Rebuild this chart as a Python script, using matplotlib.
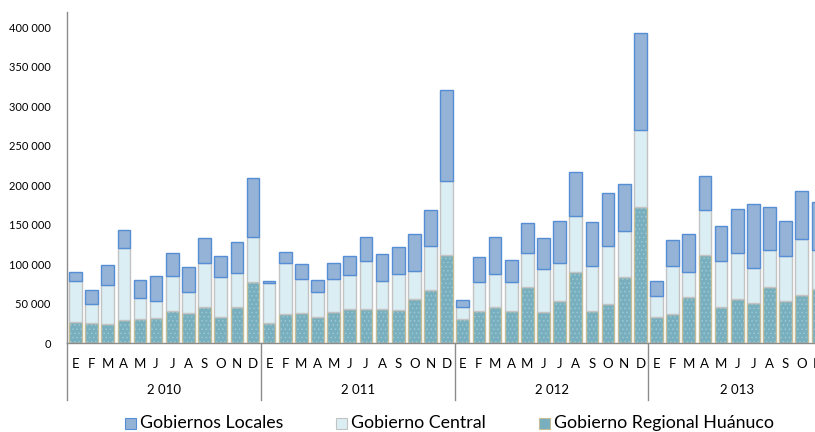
import matplotlib
matplotlib.use("Agg")
import matplotlib.pyplot as plt
import matplotlib.patches as mpatches
import matplotlib.transforms as mtransforms
import numpy as np

plt.rcParams['font.family'] = ['Lato', 'DejaVu Sans']
plt.rcParams['hatch.linewidth'] = 0.6

years = ["2 010", "2 011", "2 012", "2 013"]
months = ["E", "F", "M", "A", "M", "J", "J", "A", "S", "O", "N", "D"]
months_2013 = months[:11]

# values in soles (stack: regional bottom, central middle, locales top)
regional = [26700, 25400, 24100, 29600, 30900, 31800, 40700, 38100, 46200, 33000, 45700, 77900,
            25000, 36800, 38100, 33500, 39800, 43200, 43600, 43200, 42400, 55900, 67800, 111400,
            30100, 40700, 45300, 41100, 70700, 39800, 53400, 89400, 40200, 49100, 84300, 172000,
            33500, 37300, 58000, 111400, 45700, 55500, 51200, 70700, 53800, 61000, 69000]
central = [52500, 24600, 48800, 90300, 26700, 22000, 44000, 27100, 54600, 50900, 42800, 56400,
           51200, 64000, 42800, 31300, 41500, 42800, 60600, 35600, 45700, 36000, 55000, 94000,
           15600, 36800, 42000, 36400, 43200, 53400, 48300, 72000, 57600, 74200, 57600, 98200,
           25800, 59700, 32200, 56700, 58100, 58000, 43300, 47000, 56700, 70700, 48300]
locales = [10600, 17300, 26200, 23700, 22900, 31300, 29700, 30900, 31800, 26600, 39400, 74500,
           2600, 14800, 19500, 15700, 20400, 24100, 30500, 33400, 33500, 46200, 46200, 114800,
           8500, 31800, 46500, 27500, 38600, 39800, 52500, 55000, 55100, 67300, 59700, 123300,
           19500, 33500, 48300, 43200, 44900, 56300, 81300, 54300, 43700, 61000, 61000]

labels = ["Gobiernos Locales", "Gobierno Central", "Gobierno Regional Huánuco"]
c_loc, c_loc_edge = "#95B3D7", "#558ED5"
c_cen, c_cen_edge = "#DBEEF4", "#C3C3C3"
c_reg, c_reg_edge = "#78AFBE", "#C4BD97"

W, H = 815, 432
fig = plt.figure(figsize=(W / 100, H / 100), dpi=100)
left, right, top, bottom = 67.3, 826.0, 11.7, 343.0
ax = fig.add_axes([left / W, (H - bottom) / H, (right - left) / W, (bottom - top) / H])

n = len(regional)
x = np.arange(n)
reg = np.array(regional)
cen = np.array(central)
loc = np.array(locales)
bw = 0.78

ax.bar(x, reg, width=bw, color=c_reg, edgecolor="#9CC6D1", hatch="....", linewidth=0, zorder=2)
ax.bar(x, reg, width=bw, facecolor="none", edgecolor=c_reg_edge, linewidth=1.0, zorder=3)
ax.bar(x, cen, width=bw, bottom=reg, color=c_cen, edgecolor=c_cen_edge, linewidth=1.0, zorder=3)
ax.bar(x, loc, width=bw, bottom=reg + cen, color=c_loc, edgecolor=c_loc_edge, linewidth=1.0, zorder=3)

nslots = 12 * 4 - 1
ax.set_xlim(-0.5, nslots - 0.5)
ax.set_ylim(0, 420000)
ax.set_yticks(np.arange(0, 400001, 50000))
ax.set_yticklabels([f"{v:,}".replace(",", " ") for v in range(0, 400001, 50000)])

month_labels = months * 3 + months_2013
ax.set_xticks(x)
ax.set_xticklabels(month_labels)
ax.tick_params(axis="x", length=0, pad=11, labelsize=9.5, colors="#000000")
ax.tick_params(axis="y", length=0, pad=12, labelsize=8, colors="#000000")

for s in ["top", "right"]:
    ax.spines[s].set_visible(False)
for s in ["left", "bottom"]:
    ax.spines[s].set_color("#8C8C8C")
    ax.spines[s].set_linewidth(1.0)

trans = mtransforms.blended_transform_factory(ax.transData, ax.transAxes)
ext = -(400 - bottom) / (bottom - top)
for b in [-0.5, 11.5, 23.5, 35.5]:
    ax.plot([b, b], [0, ext], transform=trans, color="#8C8C8C", lw=1.0, clip_on=False)

ylab = -(390 - bottom) / (bottom - top)
for i, yl in enumerate(years):
    nm = 12 if i < 3 else 11
    cx = 12 * i + (nm - 1) / 2
    ax.text(cx, ylab, yl, transform=trans, ha="center", va="center", fontsize=9.5)

# legend
leg_items = [(125, labels[0], c_loc, c_loc_edge), (336, labels[1], c_cen, c_cen_edge),
             (539, labels[2], c_reg, c_reg_edge)]
ly = 423
for px, lab, fc, ec in leg_items:
    fig.patches.append(mpatches.Rectangle((px / W, (H - ly - 5.5) / H), 11 / W, 11 / H,
                                          transform=fig.transFigure, facecolor=fc,
                                          edgecolor=ec, linewidth=0.8))
    fig.text((px + 15) / W, (H - ly) / H, lab, ha="left", va="center", fontsize=12.8)

fig.savefig("out.png", dpi=100)
